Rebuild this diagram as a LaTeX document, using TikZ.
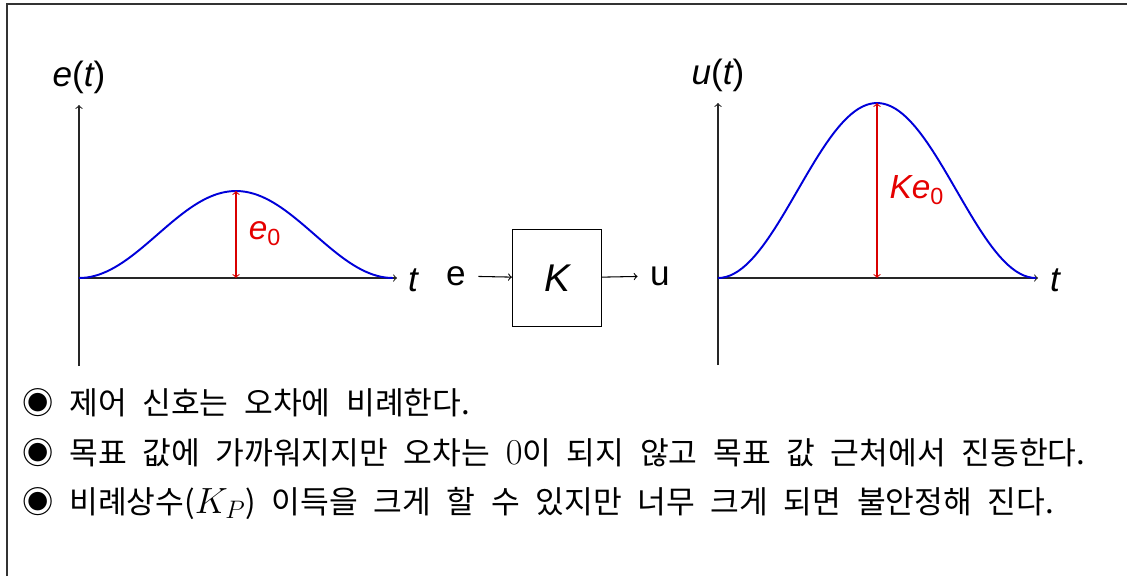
\documentclass[tikz,border=0pt]{standalone}
\usepackage{amsmath}
\usepackage{fontspec}
\setmainfont{Liberation Sans}
\newfontfamily\kofont{Noto Sans CJK KR}
\usepackage{tikz}

\tikzset{
  curve/.style={blue!85!black, line width=1.1pt},
  axis/.style={->, line width=0.6pt, black!85},
  amp/.style={<->, red!85!black, line width=0.6pt},
  lbl/.style={font=\fontsize{20}{22}\selectfont\itshape},
  tlbl/.style={font=\fontsize{20}{22}\selectfont\itshape},
  redlbl/.style={text=red!90!black, font=\fontsize{19}{22}\selectfont\itshape},
  sig/.style={font=\fontsize{20}{22}\selectfont, inner xsep=7pt},
  bullet/.style={anchor=west, inner sep=0pt, font=\kofont\fontsize{17.8}{20}\selectfont,
    execute at begin node={\spaceskip=0.5em\relax}}
}
\newcommand{\bigmath}[1]{{\fontsize{21}{21}\selectfont$#1$}}

\begin{document}
\begin{tikzpicture}[x=0.02cm, y=-0.02cm]
\useasboundingbox (0,0) rectangle (1127,576);
\draw[line width=1.2pt, black!80] (7,576) -- (7,4) -- (1127,4);

\coordinate (eo) at (79,278);
\coordinate (etop) at (79,105);
\coordinate (ebot) at (79,366);
\coordinate (eend) at (397,278);
\draw[axis] (ebot) -- (etop);
\draw[axis] (eo) -- (eend);
\node[lbl] (elabel) at (79,77) {e{\upshape(}t{\upshape)}};
\node[tlbl] (et) at (413,280) {t};
\draw[curve] plot[domain=0:1, samples=80] ({79+314*\x},{278-87*(1-cos(360*\x))/2});
\coordinate (epeak) at (236,191);
\coordinate (ebase) at (236,278);
\draw[amp] (epeak) -- (ebase);
\node[redlbl] (ezero) at (265,234) {e{\upshape\textsubscript{0}}};

\node[sig] (ein) at (456,276) {e};
\node[draw, line width=0.8pt, minimum width=50.5pt, minimum height=55pt, font=\fontsize{22}{24}\selectfont\itshape] (kbox) at (557,278) {K};
\node[sig] (uout) at (660,276) {u};
\draw[->, line width=0.6pt] (ein) -- (kbox);
\draw[->, line width=0.6pt] (kbox) -- (uout);

\coordinate (uo) at (718,278);
\coordinate (utop) at (718,103);
\coordinate (ubot) at (718,365);
\coordinate (uend) at (1038,278);
\draw[axis] (ubot) -- (utop);
\draw[axis] (uo) -- (uend);
\node[lbl] (ulabel) at (718,75) {u{\upshape(}t{\upshape)}};
\node[tlbl] (ut) at (1055,280) {t};
\draw[curve] plot[domain=0:1, samples=80] ({718+318*\x},{278-175*(1-cos(360*\x))/2});
\coordinate (upeak) at (877,103);
\coordinate (ubase) at (877,278);
\draw[amp] (upeak) -- (ubase);
\node[redlbl] (kezero) at (917,190) {Ke{\upshape\textsubscript{0}}};

\node[bullet] (line1) at (22,403) {◉ 제어 신호는 오차에 비례한다.};
\node[bullet] (line2) at (22,453) {◉ 목표 값에 가까워지지만 오차는 \bigmath{0}이 되지 않고 목표 값 근처에서 진동한다.};
\node[bullet] (line3) at (22,503) {◉ 비례상수(\bigmath{K_P}) 이득을 크게 할 수 있지만 너무 크게 되면 불안정해 진다.};
\end{tikzpicture}
\end{document}
